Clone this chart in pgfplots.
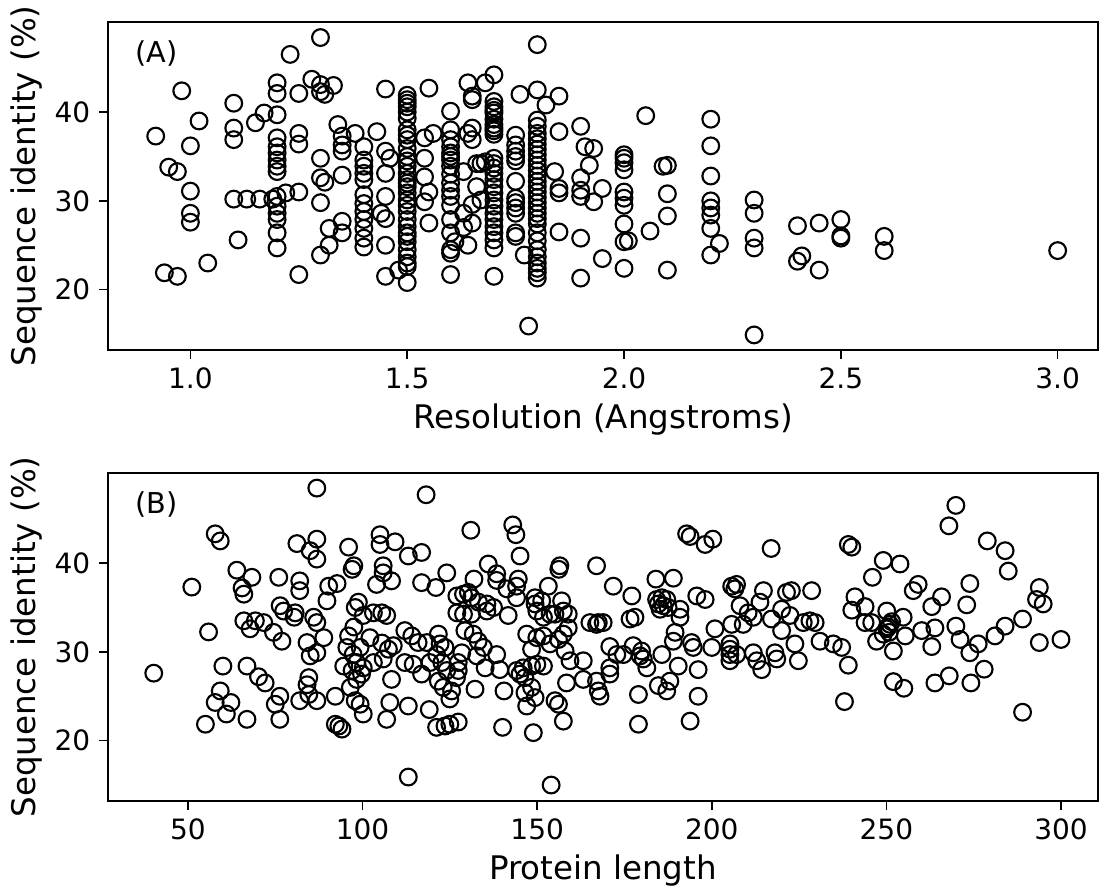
\documentclass[border=0pt]{standalone}
\usepackage{pgfplots}
\pgfplotsset{compat=1.18}
\usepackage{fontspec}
\setmainfont{DejaVu Sans}

% resolution (Angstroms) vs sequence identity (%)
\pgfplotstableread{
x y
0.98 42.4
0.92 37.3
1.02 39.0
1.00 36.2
0.95 33.8
0.97 33.3
1.00 31.1
1.00 28.6
1.00 27.6
0.94 21.9
0.97 21.5
1.04 23.0
1.11 25.6
1.10 41.0
1.10 38.2
1.10 36.9
1.15 38.8
1.17 39.9
1.10 30.2
1.13 30.2
1.16 30.2
1.19 30.2
1.20 43.3
1.20 42.1
1.20 39.7
1.20 37.1
1.20 36.1
1.20 35.4
1.20 34.6
1.20 33.9
1.20 33.3
1.20 30.5
1.20 29.4
1.20 28.6
1.20 27.9
1.20 26.4
1.20 24.7
1.30 48.4
1.23 46.5
1.28 43.7
1.30 43.1
1.30 42.3
1.31 42.0
1.33 43.0
1.25 42.1
1.25 37.6
1.25 36.4
1.22 30.9
1.25 31.0
1.30 34.8
1.30 32.6
1.31 32.1
1.30 29.8
1.32 26.9
1.35 27.7
1.35 26.4
1.32 25.0
1.30 23.9
1.25 21.7
1.34 38.6
1.35 37.3
1.35 36.3
1.35 35.6
1.35 32.9
1.38 37.6
1.40 36.1
1.40 34.6
1.40 33.9
1.40 33.1
1.40 32.4
1.40 30.7
1.40 29.7
1.40 28.8
1.40 27.9
1.40 26.9
1.40 25.8
1.40 24.8
1.43 37.8
1.45 42.6
1.45 35.6
1.46 34.8
1.45 33.1
1.45 30.5
1.44 28.6
1.45 28.0
1.45 25.0
1.45 21.5
1.48 22.2
1.50 41.9
1.50 41.4
1.50 41.0
1.50 40.6
1.50 40.0
1.50 39.3
1.50 38.0
1.50 37.4
1.50 36.9
1.50 35.9
1.50 35.0
1.50 34.5
1.50 33.9
1.50 33.1
1.50 32.4
1.50 32.0
1.50 31.6
1.50 30.9
1.50 30.1
1.50 29.5
1.50 28.8
1.50 27.9
1.50 27.1
1.50 26.4
1.50 26.0
1.50 25.4
1.50 24.5
1.50 23.7
1.50 23.0
1.50 22.6
1.50 20.8
1.55 42.7
1.55 27.5
1.54 37.1
1.56 37.6
1.54 34.8
1.54 32.7
1.55 31.0
1.54 29.9
1.60 40.1
1.60 38.0
1.60 36.9
1.60 36.1
1.60 35.4
1.60 35.0
1.60 34.6
1.60 33.9
1.60 33.0
1.60 32.0
1.60 31.2
1.60 30.5
1.60 29.5
1.60 27.9
1.60 26.4
1.60 24.5
1.60 24.1
1.60 21.7
1.80 47.6
1.78 15.9
1.70 44.2
1.68 43.3
1.64 43.3
1.65 41.8
1.65 41.4
1.76 42.0
1.80 42.5
1.85 41.8
1.82 40.8
1.70 41.2
1.70 40.6
1.70 40.2
1.70 39.9
1.70 39.2
1.70 38.6
1.70 38.2
1.70 37.9
1.70 37.5
1.70 34.8
1.70 34.2
1.70 33.7
1.70 33.1
1.70 32.4
1.70 31.6
1.70 30.9
1.70 30.1
1.70 29.4
1.70 28.6
1.70 27.9
1.70 27.1
1.70 26.4
1.70 25.6
1.70 24.7
1.70 21.5
1.65 38.2
1.64 37.6
1.65 36.9
1.66 34.2
1.68 34.4
1.63 33.3
1.66 31.6
1.65 29.6
1.63 28.6
1.65 27.5
1.63 27.0
1.64 25.0
1.61 25.4
1.67 30.1
1.67 34.2
1.75 37.4
1.75 36.3
1.75 35.6
1.75 35.0
1.75 34.5
1.75 32.2
1.75 30.3
1.75 29.8
1.75 29.2
1.75 28.6
1.75 26.4
1.75 26.0
1.77 23.9
1.80 39.1
1.80 38.4
1.80 37.6
1.80 37.0
1.80 36.4
1.80 35.8
1.80 35.2
1.80 34.6
1.80 34.0
1.80 33.4
1.80 32.8
1.80 32.2
1.80 31.6
1.80 31.0
1.80 30.4
1.80 29.8
1.80 29.2
1.80 28.6
1.80 28.0
1.80 27.4
1.80 26.4
1.80 25.5
1.80 24.5
1.80 23.7
1.80 23.0
1.80 22.4
1.80 21.9
1.80 21.3
1.84 33.3
1.85 37.8
1.85 31.4
1.85 30.9
1.85 26.5
1.90 38.4
1.91 36.1
1.93 35.9
1.92 34.0
1.90 32.6
1.90 31.2
1.90 30.5
1.93 29.9
1.95 31.4
1.90 25.8
1.90 21.3
1.95 23.5
2.00 35.2
2.00 34.8
2.00 34.3
2.00 33.5
2.00 31.0
2.00 30.3
2.00 29.5
2.00 27.4
2.00 25.4
2.00 22.4
2.01 25.5
2.05 39.6
2.06 26.6
2.09 33.9
2.10 34.0
2.10 30.8
2.10 28.3
2.10 22.2
2.20 39.2
2.20 36.2
2.20 32.8
2.20 30.0
2.20 29.2
2.20 28.4
2.20 26.9
2.20 23.9
2.22 25.2
2.30 30.1
2.30 28.6
2.30 25.8
2.30 24.7
2.30 14.9
2.40 27.2
2.41 23.8
2.40 23.2
2.45 27.5
2.45 22.2
2.50 27.9
2.50 26.05
2.50 25.8
2.60 26.0
2.60 24.4
3.00 24.4
}\resdata

% protein length vs sequence identity (%)
\pgfplotstableread{
x y
40.2 27.6
86.9 48.45
51.1 37.3
57.8 43.3
59.25 42.5
55.9 32.25
64.0 39.2
68.3 38.4
65.5 37.2
66.0 36.5
76.0 38.4
82.0 38.0
82.0 36.9
81.2 42.2
86.9 42.7
85.0 41.4
86.9 40.45
96.0 41.8
97.5 39.7
97.0 39.3
90.3 37.4
92.7 37.7
89.8 35.75
66.0 33.5
67.8 32.6
69.3 33.5
71.7 33.3
74.5 32.2
76.9 31.2
76.4 35.2
77.4 34.6
80.7 34.4
80.4 33.9
86.0 33.9
86.9 33.3
84.1 31.05
88.9 31.6
85.0 29.55
86.9 29.9
60.0 28.4
66.9 28.4
70.2 27.2
72.1 26.5
59.25 25.6
57.8 24.3
62.3 24.3
61.0 23.0
55.0 21.85
66.9 22.4
76.3 25.0
75.0 24.1
76.3 22.4
82.0 24.5
84.6 27.1
84.1 26.3
84.6 25.2
86.9 24.5
92.2 25.0
92.2 21.85
93.2 21.65
94.1 21.3
96.0 31.8
95.5 30.5
94.6 28.4
97.0 27.9
96.5 26.0
97.9 24.5
97.9 35.0
97.5 32.8
118.2 47.7
113.1 15.9
154.0 15.0
131.0 43.7
143.0 44.3
143.9 43.2
145.1 40.8
105.0 43.2
105.0 42.1
109.3 42.4
113.1 40.8
116.9 41.2
105.9 39.7
105.9 38.9
104.0 37.6
108.3 38.0
116.9 37.8
121.0 37.25
124.1 38.9
136.0 39.9
138.4 38.8
138.4 38.05
144.6 38.2
144.1 37.4
144.1 36.1
141.3 37.1
156.5 39.7
156.2 39.3
167.0 39.7
131.9 38.2
127.0 36.3
128.9 36.5
130.3 36.7
131.2 36.1
133.2 35.6
135.6 35.4
137.5 35.0
135.6 34.6
127.0 34.4
128.9 34.25
131.2 34.25
141.7 34.1
149.4 36.1
149.4 35.4
149.9 34.6
151.3 35.75
153.7 34.25
155.1 34.25
157.0 35.75
157.5 34.6
158.9 34.25
151.8 33.9
153.2 37.4
165.1 33.3
167.0 33.1
158.9 32.7
98.8 35.6
100.2 34.1
103.1 34.4
105.5 34.4
106.9 34.1
102.1 31.6
99.3 30.5
97.3 29.7
98.3 28.8
100.2 28.2
103.1 28.8
105.9 29.2
108.8 30.7
107.4 30.3
105.5 31.0
99.7 27.5
98.3 26.9
99.3 24.1
100.2 23.0
108.3 26.9
107.8 24.3
106.9 22.4
113.1 23.9
112.1 32.4
114.1 31.8
115.9 31.05
118.4 31.05
112.1 28.8
114.5 28.6
116.9 27.5
119.3 28.8
121.7 32.0
122.2 30.9
123.6 30.5
121.2 29.7
122.7 28.8
124.1 27.9
121.7 26.7
123.1 26.0
125.5 25.6
125.0 24.7
127.4 28.8
127.4 27.9
126.9 27.1
119.1 23.5
121.2 21.5
123.6 21.65
125.0 21.85
127.4 22.1
132.2 25.8
128.4 29.9
129.3 32.4
131.7 32.0
133.1 31.2
134.6 30.5
132.7 29.55
135.1 28.2
138.4 29.7
139.3 28.0
140.5 25.6
140.1 21.5
147.0 32.0
148.4 30.3
149.9 31.6
151.8 31.8
153.7 30.9
156.1 31.4
157.5 32.0
158.0 30.1
159.4 29.0
144.1 27.9
145.1 27.5
146.5 27.1
146.0 28.2
148.4 28.4
149.9 28.6
151.8 28.4
146.5 25.4
148.4 26.0
149.4 24.85
147.0 23.9
148.9 20.9
155.1 24.5
156.1 24.1
157.5 22.2
158.4 26.5
163.2 29.0
163.2 26.9
167.0 26.7
167.5 25.6
167.5 33.3
192.8 43.3
193.8 43.0
198.1 42.1
200.3 42.7
217.0 41.65
171.8 37.4
177.1 36.3
184.0 38.2
189.0 38.3
184.2 35.9
185.7 36.1
187.1 35.9
184.7 35.4
186.1 35.2
185.2 34.8
187.5 35.0
190.9 34.8
190.9 33.9
195.7 36.3
198.1 35.9
176.6 33.7
178.0 33.9
168.9 33.3
200.9 32.6
189.5 32.2
189.0 31.2
194.2 31.05
194.7 30.5
170.8 30.6
172.8 29.7
174.7 29.7
177.5 30.7
179.9 30.1
180.4 29.2
181.4 28.2
179.5 29.55
185.7 29.7
190.4 28.4
188.0 26.7
184.7 26.2
187.1 25.6
170.8 28.2
170.8 27.5
168.0 25.0
179.0 25.2
179.0 21.85
196.1 28.0
196.1 25.0
193.8 22.2
200.0 30.5
205.2 30.9
205.2 30.3
205.2 29.7
205.2 29.0
207.1 29.7
205.7 37.4
206.6 37.1
207.1 37.6
208.1 35.2
205.7 33.1
209.0 33.1
211.9 33.9
210.4 34.4
213.8 35.6
214.8 36.9
211.9 29.9
212.9 29.0
214.3 28.0
217.1 33.7
220.0 34.8
222.4 34.1
220.0 32.4
221.4 36.7
222.8 36.9
228.6 36.9
223.8 30.9
224.8 29.0
218.1 29.9
218.6 29.2
226.2 33.3
228.1 33.5
229.6 33.3
231.0 31.2
234.8 30.9
237.2 30.5
269.9 46.5
267.9 44.2
278.9 42.5
284.0 41.4
284.9 39.1
239.1 42.1
240.1 41.8
249.1 40.3
253.9 39.9
246.0 38.4
259.1 37.6
257.7 36.9
273.9 37.7
273.0 35.3
293.8 37.25
293.0 35.9
294.9 35.4
241.0 36.2
240.1 34.7
243.9 35.1
243.9 33.3
245.8 33.3
265.8 36.2
263.0 35.1
250.1 34.6
254.8 33.9
251.0 33.1
250.5 32.8
251.5 33.4
250.8 32.2
250.1 32.6
249.1 32.0
247.2 31.2
252.0 30.1
255.4 31.8
260.1 32.4
263.0 30.6
263.9 32.7
269.9 32.9
271.1 31.4
273.9 29.9
276.3 30.9
281.1 31.8
284.0 32.9
289.0 33.7
293.8 31.05
300.0 31.4
239.1 28.5
238.0 24.4
252.0 26.65
255.0 25.9
263.9 26.5
268.0 27.3
274.2 26.5
278.0 28.05
289.0 23.2
}\lendata

\pgfplotsset{
  panel/.style={
    width=396pt, height=131.2pt, scale only axis,
    anchor=north west,
    axis line style={black, line width=0.6pt},
    tick style={black, line width=0.6pt},
    tick align=outside, major tick length=3.6pt,
    xtick pos=bottom, ytick pos=left,
    ytick={20,30,40},
    ymin=13.2, ymax=50.15,
    tick label style={font=\fontsize{11.2}{13}\selectfont},
    /pgf/number format/assume math mode=true,
    label style={font=\fontsize{13}{15}\selectfont},
    xlabel style={at={(axis description cs:0.5,-0.2378)}, anchor=base},
    ylabel style={at={(axis description cs:-0.0818,0.5)}, anchor=center},
    ylabel={Sequence identity (\%)},
  },
  dots/.style={only marks, mark=o, black,
    mark options={line width=0.85pt}, mark size=3.35pt},
}

\begin{document}
\begin{tikzpicture}
\useasboundingbox (0,0) rectangle (440pt,-356.8pt);

\begin{axis}[panel, at={(43.2pt,-8.8pt)},
  xmin=0.81, xmax=3.093,
  xtick={1.0,1.5,2.0,2.5,3.0},
  xticklabel style={/pgf/number format/.cd, fixed, fixed zerofill, precision=1},
  xlabel={Resolution (Angstroms)}]
  \addplot[dots] table[x=x, y=y] {\resdata};
  \node[anchor=north west, inner sep=0pt, font=\fontsize{11.5}{13}\selectfont]
    at (rel axis cs:0.027,0.945) {(A)};
\end{axis}

\begin{axis}[panel, at={(43.2pt,-189.2pt)},
  xmin=27.1, xmax=310.6,
  xtick={50,100,150,200,250,300},
  xlabel={Protein length}]
  \addplot[dots] table[x=x, y=y] {\lendata};
  \node[anchor=north west, inner sep=0pt, font=\fontsize{11.5}{13}\selectfont]
    at (rel axis cs:0.027,0.945) {(B)};
\end{axis}
\end{tikzpicture}
\end{document}
